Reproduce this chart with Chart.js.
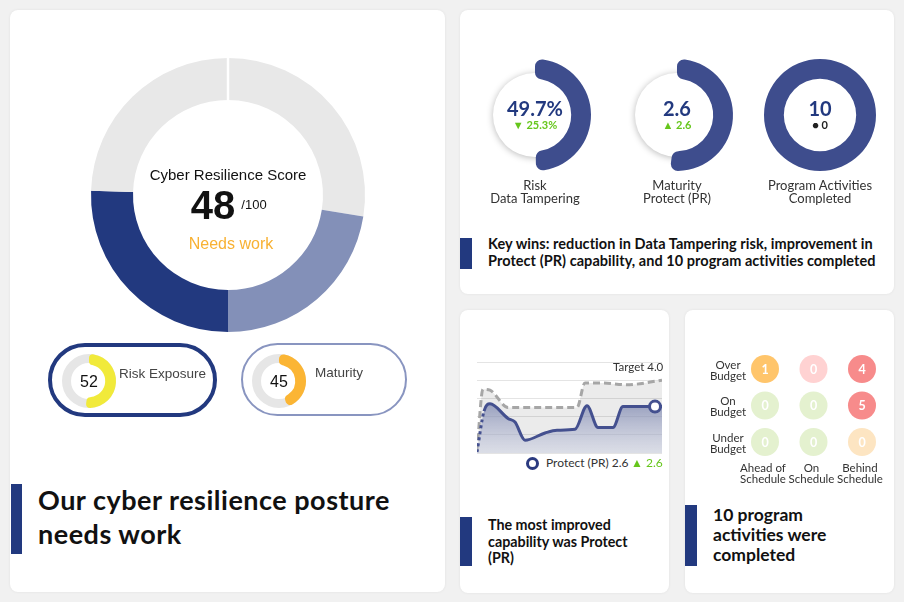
<!DOCTYPE html>
<html>
<head>
<meta charset="utf-8">
<script src="https://cdn.jsdelivr.net/npm/chart.js@4.4.0/dist/chart.umd.min.js"></script>
<style>
html, body { margin: 0; padding: 0; }
body { width: 904px; height: 602px; background: #f1f1f1; position: relative; overflow: hidden; font-family: Lato, 'Noto Sans', sans-serif; color: #111; }
.card { position: absolute; background: #fff; border-radius: 8px; box-shadow: 0 0 3px rgba(0,0,0,0.07); }
canvas { position: absolute; }
.c { position: absolute; transform: translate(-50%, -50%); white-space: nowrap; line-height: 1; text-align: center; }
.l { position: absolute; transform: translateY(-50%); white-space: nowrap; line-height: 1; }
.arial { font-family: 'Liberation Sans', Arial, sans-serif; }
.bar { position: absolute; background: #22397f; }
.pill { position: absolute; box-sizing: border-box; border-radius: 40px; }
.track { position: absolute; box-sizing: border-box; border-radius: 50%; border: 9px solid #e6e6e6; }
.disc { position: absolute; width: 84px; height: 84px; border-radius: 50%; background: #fff; box-shadow: 0 1px 7px rgba(0,0,0,0.28); }
.big { font-weight: 700; color: #22397f; font-size: 20px; }
.delta { font-weight: 700; color: #66c61c; font-size: 11px; }
.lab { font-size: 13px; color: #333; line-height: 12.5px; }
.msg { position: absolute; font-weight: 700; color: #111; }
</style>
</head>
<body>

<!-- cards -->
<div class="card" style="left:10px;top:10px;width:435px;height:582px;"></div>
<div class="card" style="left:460px;top:10px;width:434px;height:284px;"></div>
<div class="card" style="left:460px;top:310px;width:209px;height:283px;"></div>
<div class="card" style="left:685px;top:310px;width:209px;height:283px;"></div>

<!-- score -->
<canvas id="scoreChart" width="300" height="300" style="left:78px;top:45px;"></canvas>
<div class="c arial" style="left:228px;top:174px;font-size:15px;">Cyber Resilience Score</div>
<div class="c arial" style="left:213px;top:205px;font-size:40px;font-weight:700;">48</div>
<div class="c arial" style="left:254px;top:204px;font-size:13px;">/100</div>
<div class="c arial" style="left:231px;top:244px;font-size:16px;color:#f8b133;">Needs work</div>

<div class="pill" style="left:48px;top:343px;width:169px;height:74px;border:4px solid #22397f;"></div>
<div class="pill" style="left:241px;top:343px;width:166px;height:73px;border:2.5px solid #8995c0;"></div>
<div class="track" style="left:62px;top:354px;width:54px;height:54px;"></div>
<div class="track" style="left:252px;top:354px;width:54px;height:54px;"></div>
<canvas id="riskGauge" width="60" height="60" style="left:59px;top:351px;"></canvas>
<canvas id="matGauge" width="60" height="60" style="left:249px;top:351px;"></canvas>
<div class="c arial" style="left:89px;top:382px;font-size:16px;">52</div>
<div class="l arial" style="left:119px;top:374px;font-size:13.5px;color:#444;">Risk Exposure</div>
<div class="c arial" style="left:279px;top:382px;font-size:16px;">45</div>
<div class="l arial" style="left:315px;top:373px;font-size:13.5px;color:#444;">Maturity</div>

<div class="bar" style="left:11px;top:484px;width:11px;height:70px;"></div>
<div class="msg" style="left:38px;top:483px;font-size:27px;line-height:34px;letter-spacing:0.5px;">Our cyber resilience posture<br>needs work</div>

<!-- key metrics -->
<div class="disc" style="left:493px;top:73px;"></div>
<div class="disc" style="left:635px;top:73px;"></div>
<div class="disc" style="left:778px;top:73px;"></div>
<canvas id="ring1" width="130" height="130" style="left:470px;top:50px;"></canvas>
<canvas id="ring2" width="130" height="130" style="left:612px;top:50px;"></canvas>
<canvas id="ring3" width="130" height="130" style="left:755px;top:50px;"></canvas>
<div class="c big" style="left:535px;top:108px;">49.7%</div>
<div class="c delta" style="left:535px;top:124px;">&#9660; 25.3%</div>
<div class="c big" style="left:677px;top:108px;">2.6</div>
<div class="c delta" style="left:677px;top:124px;">&#9650; 2.6</div>
<div class="c big" style="left:820px;top:108px;">10</div>
<div class="c delta" style="left:820px;top:124px;color:#222;">&#9679; 0</div>
<div class="c lab" style="left:535px;top:191px;">Risk<br>Data Tampering</div>
<div class="c lab" style="left:677px;top:191px;">Maturity<br>Protect (PR)</div>
<div class="c lab" style="left:820px;top:191px;">Program Activities<br>Completed</div>

<div class="bar" style="left:460px;top:238px;width:12px;height:31px;"></div>
<div class="msg" style="left:488px;top:236px;font-size:14.5px;line-height:16.5px;letter-spacing:0.05px;">Key wins: reduction in Data Tampering risk, improvement in<br>Protect (PR) capability, and 10 program activities completed</div>

<!-- trend -->
<canvas id="trendChart" width="196" height="100" style="left:470px;top:355px;"></canvas>
<div class="l" style="left:613px;top:367px;font-size:11.5px;color:#333;">Target 4.0</div>
<div style="position:absolute;left:526px;top:457px;width:7px;height:7px;border:3px solid #2b3a80;border-radius:50%;background:#fff;"></div>
<div class="l" style="left:546px;top:463px;font-size:12px;color:#333;">Protect (PR) 2.6</div>
<div class="l" style="left:631px;top:463px;font-size:12px;color:#66c61c;">&#9650; 2.6</div>

<div class="bar" style="left:460px;top:517px;width:12px;height:49px;"></div>
<div class="msg" style="left:488px;top:517px;font-size:14.3px;line-height:16.5px;">The most improved<br>capability was Protect<br>(PR)</div>

<!-- matrix -->
<canvas id="matrixChart" width="195" height="140" style="left:700px;top:345px;"></canvas>
<div class="bar" style="left:685px;top:505px;width:12px;height:61px;"></div>
<div class="msg" style="left:713px;top:505px;font-size:17.5px;line-height:20px;">10 program<br>activities were<br>completed</div>

<script>
// Dados do gráfico
const scoreParts = [27.5, 22.5, 25.5, 24.5];
const scoreColors = ['#e8e8e8', '#8390b8', '#22397f', '#e8e8e8'];

const riskExposure = 52;
const maturityScore = 45;

const riskDataTampering = 49.7;
const protectMaturity = 2.6;
const protectMax = 5;
const activitiesDone = 10;
const activitiesTotal = 10;

// Protect (PR) e meta (linha tracejada)
const protectX = [0, 7, 13, 31, 38, 48, 68, 80, 98, 110, 121, 136, 146, 178, 185];
const protectY = [0.05, 2.3, 2.7, 1.9, 1.7, 0.7, 1.1, 1.25, 1.3, 2.6, 1.4, 1.4, 2.55, 2.55, 2.55];
const protectLatest = 13;
const targetX = [0, 6, 13, 31, 100, 108, 125, 150, 185];
const targetY = [0.1, 3.5, 3.45, 2.5, 2.5, 3.85, 3.85, 3.75, 4.0];

// Matriz orçamento x cronograma
const budgetRows = [['Over', 'Budget'], ['On', 'Budget'], ['Under', 'Budget']];
const scheduleCols = [['Ahead of', 'Schedule'], ['On', 'Schedule'], ['Behind', 'Schedule']];
const activityCounts = [[1, 0, 4], [0, 0, 5], [0, 0, 0]];
const cellColors = [
    ['#ffc56b', '#ffd2d2', '#f78b8b'],
    ['#e4f1cf', '#e4f1cf', '#f78b8b'],
    ['#e4f1cf', '#e4f1cf', '#fde5c2']
];

Chart.defaults.animation = false;
Chart.defaults.responsive = false;
Chart.defaults.events = [];
Chart.defaults.plugins.legend.display = false;
Chart.defaults.plugins.tooltip.enabled = false;

// Linha branca no topo do anel principal
const topGap = {
    id: 'topGap',
    afterDatasetsDraw(chart) {
        const arc = chart.getDatasetMeta(0).data[0];
        const ctx = chart.ctx;
        ctx.save();
        ctx.strokeStyle = '#fff';
        ctx.lineWidth = 2.5;
        ctx.beginPath();
        ctx.moveTo(arc.x, arc.y - arc.innerRadius);
        ctx.lineTo(arc.x, arc.y - arc.outerRadius - 1);
        ctx.stroke();
        ctx.restore();
    }
};

new Chart(document.getElementById('scoreChart'), {
    type: 'doughnut',
    data: { datasets: [{ data: scoreParts, backgroundColor: scoreColors, borderWidth: 0 }] },
    options: { radius: 137, cutout: 104 },
    plugins: [topGap]
});

function gauge(id, value, max, color, radius, cutout, round) {
    new Chart(document.getElementById(id), {
        type: 'doughnut',
        data: { datasets: [{
            data: [value, max - value],
            backgroundColor: [color, 'rgba(0,0,0,0)'],
            borderWidth: 0,
            borderRadius: round
        }] },
        options: { radius: radius, cutout: cutout }
    });
}

gauge('riskGauge', riskExposure, 100, '#f1ea3a', 27, 18, 4);
gauge('matGauge', maturityScore, 100, '#fbb534', 27, 18, 4.5);
gauge('ring1', riskDataTampering, 100, '#3e4d8d', 56, 42, 7);
gauge('ring2', protectMaturity, protectMax, '#3e4d8d', 56, 42, 7);
gauge('ring3', activitiesDone, activitiesTotal, '#3e4d8d', 56, 42, 0);

// Gráfico de tendência
const trendCtx = document.getElementById('trendChart');
new Chart(trendCtx, {
    type: 'line',
    data: {
        datasets: [
            {
                data: protectX.map((x, i) => ({ x: x, y: protectY[i] })),
                borderColor: '#44508f',
                borderWidth: 3,
                cubicInterpolationMode: 'monotone',
                pointRadius: protectX.map((x, i) => i === protectLatest ? 5.5 : 0),
                pointBorderWidth: 3,
                pointBorderColor: '#44508f',
                pointBackgroundColor: '#fff',
                fill: 'origin',
                backgroundColor: function(context) {
                    const area = context.chart.chartArea;
                    if (!area) return 'rgba(140,148,185,0.5)';
                    const g = context.chart.ctx.createLinearGradient(0, area.top + 40, 0, area.bottom);
                    g.addColorStop(0, 'rgba(120,130,172,0.75)');
                    g.addColorStop(1, 'rgba(200,205,225,0.45)');
                    return g;
                },
                segment: {
                    borderDash: ctx => ctx.p0DataIndex === 0 ? [3, 3] : undefined
                },
                order: 1
            },
            {
                data: targetX.map((x, i) => ({ x: x, y: targetY[i] })),
                borderColor: '#a6a6a6',
                borderWidth: 3,
                borderDash: [7, 4],
                cubicInterpolationMode: 'monotone',
                pointRadius: 0,
                fill: 'origin',
                backgroundColor: 'rgba(0,0,0,0.08)',
                order: 2
            }
        ]
    },
    options: {
        layout: { autoPadding: false, padding: { left: 7, right: 4, top: 7, bottom: 2 } },
        scales: {
            x: { type: 'linear', min: 0, max: 185, display: false },
            y: {
                min: 0, max: 5,
                ticks: { display: false, stepSize: 1 },
                grid: { color: '#e4e4e4', drawTicks: false },
                border: { display: false }
            }
        }
    }
});

// Matriz: textos e rótulos
const matrixLabels = {
    id: 'matrixLabels',
    afterDatasetsDraw(chart) {
        const ctx = chart.ctx;
        const sx = chart.scales.x, sy = chart.scales.y;
        ctx.save();
        ctx.textAlign = 'center';
        ctx.textBaseline = 'middle';
        ctx.fillStyle = '#fff';
        ctx.font = 'bold 12.5px Lato';
        activityCounts.forEach((row, r) => row.forEach((v, c) => {
            ctx.fillText(String(v), sx.getPixelForValue(c), sy.getPixelForValue(r) + 0.5);
        }));
        ctx.fillStyle = '#333';
        ctx.font = '11.5px Lato';
        budgetRows.forEach((lines, r) => {
            const y = sy.getPixelForValue(r);
            ctx.fillText(lines[0], 28, y - 4);
            ctx.fillText(lines[1], 28, y + 7);
        });
        scheduleCols.forEach((lines, c) => {
            const x = sx.getPixelForValue(c) - 2;
            ctx.fillText(lines[0], x, 123);
            ctx.fillText(lines[1], x, 134);
        });
        ctx.restore();
    }
};

const matrixPoints = [];
const matrixColors = [];
activityCounts.forEach((row, r) => row.forEach((v, c) => {
    matrixPoints.push({ x: c, y: r });
    matrixColors.push(cellColors[r][c]);
}));

new Chart(document.getElementById('matrixChart'), {
    type: 'scatter',
    data: { datasets: [{
        data: matrixPoints,
        pointRadius: 14,
        pointBorderWidth: 0,
        pointBackgroundColor: matrixColors
    }] },
    options: {
        layout: { autoPadding: false, padding: { left: 40.75, right: 8.75, top: 5.75, bottom: 24.75 } },
        scales: {
            x: { min: -0.5, max: 2.5, display: false },
            y: { min: -0.5, max: 2.5, reverse: true, display: false }
        }
    },
    plugins: [matrixLabels]
});
</script>
</body>
</html>
